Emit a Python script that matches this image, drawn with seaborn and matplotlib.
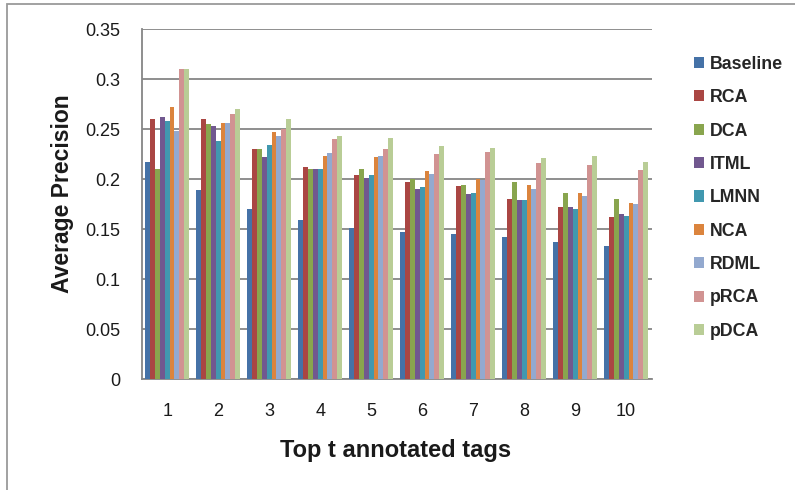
import pandas as pd
import matplotlib
matplotlib.use("Agg")
import matplotlib.pyplot as plt
import seaborn as sns
from matplotlib.patches import Rectangle

# values (top t = 1..10)
tags = ["1", "2", "3", "4", "5", "6", "7", "8", "9", "10"]
baseline = [0.217, 0.189, 0.170, 0.159, 0.151, 0.147, 0.145, 0.142, 0.137, 0.133]
rca = [0.260, 0.260, 0.230, 0.212, 0.204, 0.197, 0.193, 0.180, 0.172, 0.162]
dca = [0.210, 0.255, 0.230, 0.210, 0.210, 0.200, 0.194, 0.197, 0.186, 0.180]
itml = [0.262, 0.253, 0.222, 0.210, 0.201, 0.190, 0.185, 0.179, 0.172, 0.165]
lmnn = [0.258, 0.238, 0.234, 0.210, 0.204, 0.192, 0.186, 0.179, 0.170, 0.163]
nca = [0.272, 0.256, 0.247, 0.223, 0.222, 0.208, 0.200, 0.194, 0.186, 0.176]
rdml = [0.248, 0.256, 0.243, 0.226, 0.223, 0.205, 0.199, 0.190, 0.183, 0.175]
prca = [0.310, 0.265, 0.250, 0.240, 0.230, 0.225, 0.227, 0.216, 0.214, 0.209]
pdca = [0.310, 0.270, 0.260, 0.243, 0.241, 0.233, 0.231, 0.221, 0.223, 0.217]

methods = ["Baseline", "RCA", "DCA", "ITML", "LMNN", "NCA", "RDML", "pRCA", "pDCA"]
series = [baseline, rca, dca, itml, lmnn, nca, rdml, prca, pdca]
colors = ["#4572A7", "#AA4643", "#89A54E", "#71588F", "#4198AF",
          "#DB843D", "#93A9CF", "#D19392", "#B9CD96"]

# long format table for seaborn
rows = []
for m, vals in zip(methods, series):
    for t, v in zip(tags, vals):
        rows.append({"Top t": t, "Method": m, "Average Precision": v})
df = pd.DataFrame(rows)

sns.set_style("white")
plt.rcParams["font.family"] = ["Liberation Sans", "DejaVu Sans"]

fig = plt.figure(figsize=(7.95, 4.90), dpi=100)
ax = fig.add_axes([0.1782, 0.2259, 0.6415, 0.7143])

sns.barplot(data=df, x="Top t", y="Average Precision", hue="Method",
            palette=colors, width=0.855, saturation=1, linewidth=0,
            ax=ax, zorder=3)

grid_col = "#868686"
ax.set_ylim(0, 0.35)
ax.set_xlim(-0.5, 9.5)
ax.set_yticks([0, 0.05, 0.1, 0.15, 0.2, 0.25, 0.3, 0.35])
ax.set_yticklabels(["0", "0.05", "0.1", "0.15", "0.2", "0.25", "0.3", "0.35"])
ax.yaxis.grid(True, color=grid_col, linewidth=1.3, zorder=0)
ax.set_axisbelow(True)
for s in ["top", "right"]:
    ax.spines[s].set_visible(False)
for s in ["left", "bottom"]:
    ax.spines[s].set_color(grid_col)
    ax.spines[s].set_linewidth(1.3)

ax.tick_params(axis="y", length=3.6, width=1.3, color=grid_col,
               labelsize=13, pad=11.5, labelcolor="#1a1a1a")
ax.tick_params(axis="x", which="major", length=0, labelsize=13, pad=17,
               labelcolor="#1a1a1a")
ax.set_xticks([i - 0.5 for i in range(11)], minor=True)
ax.tick_params(axis="x", which="minor", length=3.6, color=grid_col, width=1.3)

ax.set_xlabel("Top t annotated tags", fontsize=17, fontweight="bold",
              color="#1a1a1a")
ax.xaxis.set_label_coords(0.497, -0.202)
ax.xaxis.label.set_va("center")
ax.set_ylabel("Average Precision", fontsize=16.5, fontweight="bold",
              color="#1a1a1a")
ax.yaxis.set_label_coords(-0.155, 0.53)
ax.yaxis.label.set_va("center")

handles, labels = ax.get_legend_handles_labels()
ax.legend(handles, labels, loc="upper left", bbox_to_anchor=(0.873, 0.886),
          bbox_transform=fig.transFigure, frameon=False,
          handlelength=0.58, handleheight=0.58, handletextpad=0.3,
          labelspacing=0.92, borderaxespad=0, borderpad=0,
          prop={"weight": "bold", "size": 12.8})

# outer chart border (cropped on right and bottom)
fig.patches.append(Rectangle((7 / 795, -0.05), 1.2, 1.05 - 4 / 490,
                             transform=fig.transFigure, fill=False,
                             edgecolor="#9a9a9a", linewidth=1.3))

fig.savefig("out.png", dpi=100)
